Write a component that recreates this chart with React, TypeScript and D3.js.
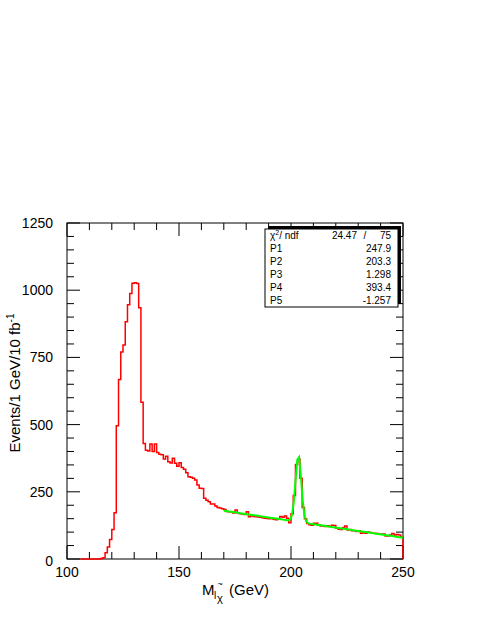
import { useMemo } from "react";
import { scaleLinear, line, range } from "d3";

// histogram: 1 GeV bins, first filled-range bin starts at 106 GeV
const firstBin = 106;
const counts = [
  0, 0, 0, 0, 0, 0, 0, 0, 0, // 106-114
  2, 5, 23, 45, 73, 110, 172, 496, 668, 770, // 115-124
  796, 883, 946, 988, 1026, 1028, 1025, 935, 583, 430, // 125-134
  405, 402, 428, 400, 428, 396, 390, 388, 372, 382, // 135-144
  362, 357, 375, 356, 345, 358, 340, 334, 321, 306, // 145-154
  304, 300, 294, 275, 263, 262, 226, 219, 213, 205, // 155-164
  205, 197, 192, 190, 187, 184, 177, 176, 175, 171, // 165-174
  182, 170, 168, 167, 166, 176, 157, 161, 158, 157, // 175-184
  156, 155, 153, 152, 151, 150, 151, 148, 146, 149, // 185-194
  158, 155, 160, 152, 135, 168, 236, 352, 372, 300, // 195-204
  192, 150, 132, 127, 126, 133, 133, 127, 123, 123, // 205-214
  121, 124, 121, 126, 125, 114, 111, 110, 117, 123, // 215-224
  108, 110, 105, 105, 102, 105, 96, 99, 96, 100, // 225-234
  99, 96, 96, 95, 93, 92, 93, 86, 86, 89, // 235-244
  95, 89, 91, 89, 81, // 245-249
];

// fit: gaus(P1,P2,P3) + pol1(P4,P5), drawn over 170-250
const fitNames = ["P1", "P2", "P3", "P4", "P5"];
const fitValues = [247.9, 203.3, 1.298, 393.4, -1.257];
const fitLabels = ["247.9", "203.3", "1.298", "393.4", "-1.257"];
const fitRange = [170, 250];
const chi2 = "24.47";
const ndf = "75";

const xTicksMajor = [100, 150, 200, 250];
const yTicksMajor = [0, 250, 500, 750, 1000, 1250];

const W = 485;
const H = 627;
const frame = { left: 67, right: 403, top: 223, bottom: 559 };
const font = "'Liberation Sans', Arial, Helvetica, sans-serif";

export default function App() {
  const x = scaleLinear().domain([100, 250]).range([frame.left, frame.right]);
  const y = scaleLinear().domain([0, 1250]).range([frame.bottom, frame.top]);

  const histPath = useMemo(() => {
    // step outline, closed down to zero at both ends
    let d = `M${x(firstBin)},${y(0)}`;
    counts.forEach((c, i) => {
      const g = firstBin + i;
      d += `L${x(g)},${y(c)}L${x(g + 1)},${y(c)}`;
    });
    d += `L${x(firstBin + counts.length)},${y(0)}`;
    return d;
  }, []);

  const fitPath = useMemo(() => {
    const [p1, p2, p3, p4, p5] = fitValues;
    const f = (t: number) =>
      p1 * Math.exp(-0.5 * ((t - p2) / p3) ** 2) + p4 + p5 * t;
    const n = 100;
    const step = (fitRange[1] - fitRange[0]) / n;
    const pts = range(n + 1).map((k) => {
      const t = fitRange[0] + k * step;
      return [t, f(t)] as [number, number];
    });
    return line()
      .x((p) => x(p[0]))
      .y((p) => y(p[1]))(pts);
  }, []);

  const xMinor = range(100, 251, 10);
  const yMinor = range(0, 1251, 50);
  const majLen = 13;
  const minLen = 7;

  // stats box
  const box = { x0: 265, x1: 398, y0: 229, y1: 307 };
  const rowH = (box.y1 - box.y0) / 6;
  const rowY = (i: number) => box.y0 + rowH * (i + 0.5) + 3.5;

  return (
    <svg
      width={W}
      height={H}
      style={{ position: "absolute", left: 0, top: 0, background: "#fff" }}
      fontFamily={font}
    >
      <rect width={W} height={H} fill="#fff" />

      {/* frame */}
      <rect
        x={frame.left}
        y={frame.top}
        width={frame.right - frame.left}
        height={frame.bottom - frame.top}
        fill="none"
        stroke="#000"
        strokeWidth={1}
      />
      {/* x ticks bottom + top */}
      {xMinor.map((v) => {
        const len = xTicksMajor.includes(v) ? majLen : minLen;
        return (
          <g key={"xt" + v} stroke="#000" strokeWidth={1}>
            <line x1={x(v)} x2={x(v)} y1={frame.bottom} y2={frame.bottom - len} />
            <line x1={x(v)} x2={x(v)} y1={frame.top} y2={frame.top + len} />
          </g>
        );
      })}
      {/* y ticks left + right */}
      {yMinor.map((v) => {
        const len = yTicksMajor.includes(v) ? majLen : minLen;
        return (
          <g key={"yt" + v} stroke="#000" strokeWidth={1}>
            <line x1={frame.left} x2={frame.left + len} y1={y(v)} y2={y(v)} />
            <line x1={frame.right} x2={frame.right - len} y1={y(v)} y2={y(v)} />
          </g>
        );
      })}

      {/* tick labels */}
      {xTicksMajor.map((v) => (
        <text key={"xl" + v} x={x(v)} y={577} fontSize={14} textAnchor="middle">
          {v}
        </text>
      ))}
      {yTicksMajor.map((v) => (
        <text
          key={"yl" + v}
          x={53}
          y={y(v) + (v === 0 ? 7 : 5)}
          fontSize={14}
          textAnchor="end"
        >
          {v}
        </text>
      ))}

      {/* axis titles */}
      <text x={202} y={595} fontSize={15}>
        M
        <tspan x={214} y={599} fontSize={10}>l</tspan>
        <tspan x={217} y={602} fontSize={11}>χ</tspan>
        <tspan x={217.5} y={587} fontSize={9}>~</tspan>
        <tspan x={229} y={595} fontSize={15}>(GeV)</tspan>
      </text>

      <text
        transform={`translate(20,${383}) rotate(-90)`}
        fontSize={15}
        textAnchor="middle"
      >
        Events/1 GeV/10 fb
        <tspan dy={-6} fontSize={10}>-1</tspan>
      </text>

      {/* histogram and fit */}
      <path d={histPath} fill="none" stroke="#ff0000" strokeWidth={1.5} />
      <path d={fitPath ?? ""} fill="none" stroke="#00ff00" strokeWidth={2} />

      {/* stats box */}
      <rect
        x={box.x0 + 3}
        y={box.y0 - 3}
        width={box.x1 - box.x0}
        height={box.y1 - box.y0}
        fill="#000"
      />
      <rect
        x={box.x0}
        y={box.y0}
        width={box.x1 - box.x0}
        height={box.y1 - box.y0}
        fill="#fff"
        stroke="#000"
        strokeWidth={1}
      />
      <g fontSize={10}>
        <text x={box.x0 + 5} y={rowY(0)}>
          χ<tspan dy={-4} fontSize={7}>2</tspan>
          <tspan dy={4}>/ ndf</tspan>
        </text>
        <text x={357} y={rowY(0)} textAnchor="end">{chi2}</text>
        <text x={365} y={rowY(0)} textAnchor="middle">/</text>
        <text x={391} y={rowY(0)} textAnchor="end">{ndf}</text>
        {fitNames.map((n, i) => (
          <g key={n}>
            <text x={box.x0 + 5} y={rowY(i + 1)}>{n}</text>
            <text x={391} y={rowY(i + 1)} textAnchor="end">{fitLabels[i]}</text>
          </g>
        ))}
      </g>
    </svg>
  );
}
